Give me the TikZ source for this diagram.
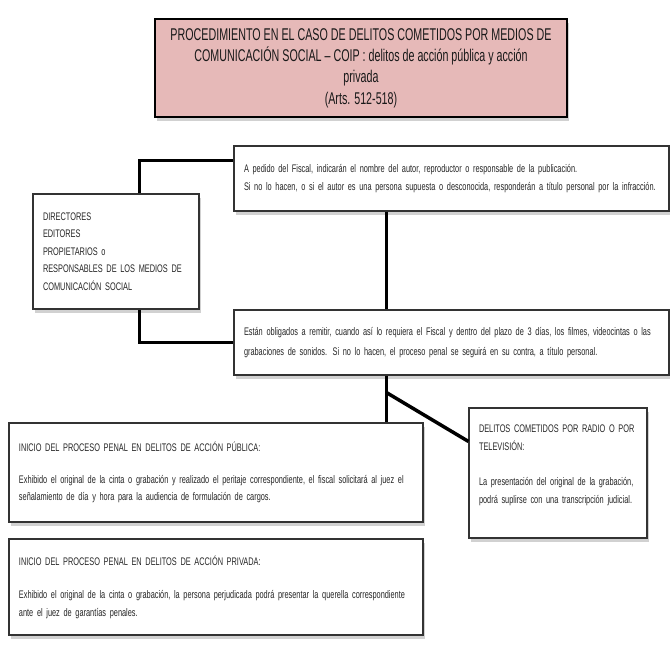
\documentclass[tikz,border=0pt]{standalone}
\usepackage{fontspec}
\setmainfont{Liberation Sans}
\newfontfamily\cuerpofont[FakeStretch=0.67]{Liberation Sans}
\newfontfamily\titulofont[FakeStretch=0.63]{Liberation Sans}
\usepackage{tikz}
\usetikzlibrary{calc,shadows}
\definecolor{titlepink}{RGB}{230,185,184}
\newcommand{\cuerpo}{\cuerpofont\fontsize{11}{17.5}\selectfont}
\tikzset{
  caja/.style={draw=black!80, line width=1.1pt, fill=white, inner xsep=10pt,
    inner ysep=0pt, align=left, text=black!85, font=\cuerpo,
    drop shadow={shadow xshift=2pt, shadow yshift=-4pt, opacity=0.18, fill=black}},
  titulo/.style={draw=black, line width=2.5pt, fill=titlepink, align=center,
    inner sep=0pt, text=black!90, font=\titulofont\fontsize{17}{21.3}\selectfont,
    drop shadow={shadow xshift=2pt, shadow yshift=-4pt, opacity=0.18, fill=black}},
  conector/.style={line width=3.5pt, black}
}

\begin{document}
\begin{tikzpicture}[x=1pt, y=-1pt]
  \useasboundingbox (0,0) rectangle (670,653);

  % title
  \node[titulo, minimum width=412pt, minimum height=98pt] (titulo) at (361,68)
    {PROCEDIMIENTO EN EL CASO DE DELITOS COMETIDOS POR MEDIOS DE\\
     COMUNICACIÓN SOCIAL – COIP : delitos de acción pública y acción\\
     privada\\
     (Arts. 512-518)};

  % boxes
  \node[caja, text width=415pt, minimum height=65pt] (pedido) at (451.5,178.5)
    {A pedido del Fiscal, indicarán el nombre del autor, reproductor o responsable de la publicación.\\[0.5pt]
     Si no lo hacen, o si el autor es una persona supuesta o desconocida, responderán a título personal por la infracción.};
  \node[caja, text width=146pt, minimum height=115pt] (medios) at (116,251.5)
    {DIRECTORES\\ EDITORES\\ PROPIETARIOS o\\ RESPONSABLES DE LOS MEDIOS DE\\ COMUNICACIÓN SOCIAL};
  \node[caja, text width=415pt, minimum height=65pt] (remitir) at (451.5,342.5)
    {Están obligados a remitir, cuando así lo requiera el Fiscal y dentro del plazo de 3 días, los filmes, videocintas o las\\[3pt]
     grabaciones de sonidos. Si no lo hacen, el proceso penal se seguirá en su contra, a título personal.};
  \node[caja, text width=394pt, minimum height=99pt] (publica) at (216,472.5)
    {INICIO DEL PROCESO PENAL EN DELITOS DE ACCIÓN PÚBLICA:\\[14pt]
     Exhibido el original de la cinta o grabación y realizado el peritaje correspondiente, el fiscal solicitará al juez el\\
     señalamiento de día y hora para la audiencia de formulación de cargos.};
  \node[caja, text width=158pt, minimum height=130pt] (radio) at (558,473)
    {DELITOS COMETIDOS POR RADIO O POR\\ TELEVISIÓN:\\[18pt]
     La presentación del original de la grabación,\\ podrá suplirse con una transcripción judicial.\\ \mbox{}};
  \node[caja, text width=394pt, minimum height=96pt] (privada) at (216,587)
    {INICIO DEL PROCESO PENAL EN DELITOS DE ACCIÓN PRIVADA:\\[16pt]
     Exhibido el original de la cinta o grabación, la persona perjudicada podrá presentar la querella correspondiente\\
     ante el juez de garantías penales.};

  % connectors
  \coordinate (medtop) at ($(medios.north west)+(107,0)$);
  \coordinate (medbot) at ($(medios.south west)+(107,0)$);
  \coordinate (eje) at ($(remitir.south west)+(153,0)$);
  \coordinate (rama) at ($(eje)+(0,17)$);
  \draw[conector] (medtop) |- ($(pedido.north west)+(0,15)$);
  \draw[conector] (medbot) |- (remitir.west);
  \draw[conector] ($(pedido.south west)+(153,0)$) -- ($(remitir.north west)+(153,0)$);
  \draw[conector] (eje) -- (eje |- publica.north);
  \draw[conector] (rama) -- ($(radio.north west)+(0,34)$);
\end{tikzpicture}
\end{document}
